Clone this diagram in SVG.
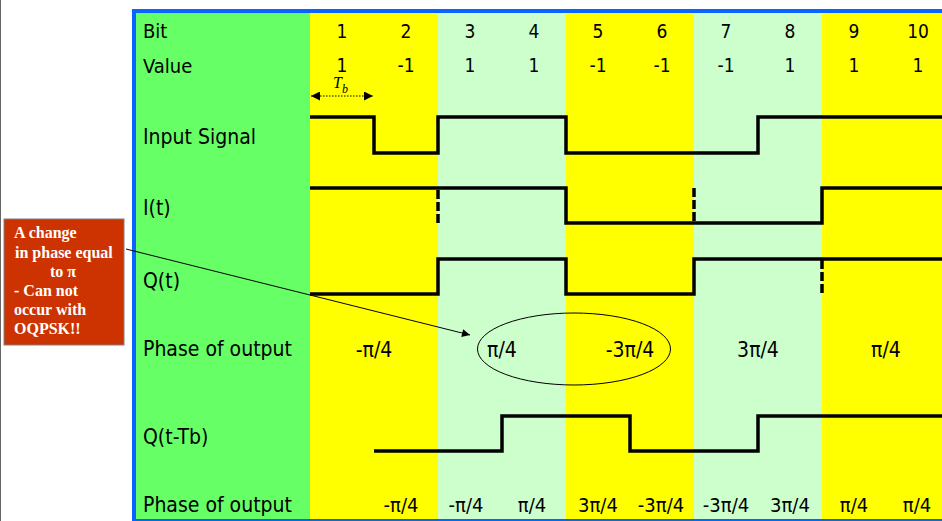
<svg xmlns="http://www.w3.org/2000/svg" width="942" height="521" viewBox="0 0 942 521">
<style>
.lbl{font-family:"DejaVu Sans Condensed","DejaVu Sans",sans-serif;font-stretch:condensed;font-size:21px;fill:#000}
.hdr{font-size:20px}
.num{font-family:"DejaVu Sans Condensed","DejaVu Sans",sans-serif;font-stretch:condensed;font-size:19px;fill:#000;text-anchor:middle}
.ph{font-family:"DejaVu Sans Condensed","DejaVu Sans",sans-serif;font-stretch:condensed;font-size:21px;fill:#000;text-anchor:middle}
.ph2{font-family:"DejaVu Sans Condensed","DejaVu Sans",sans-serif;font-stretch:condensed;font-size:20px;fill:#000;text-anchor:middle}
.wave{fill:none;stroke:#000;stroke-width:3.5;stroke-linejoin:miter}
.dash{fill:none;stroke:#000;stroke-width:3.5;stroke-dasharray:9 3}
.call{font-family:"Liberation Serif","Times New Roman",serif;font-weight:bold;font-size:16px;fill:#fff}
</style>
<defs>
<marker id="ah" viewBox="0 0 10 10" refX="10" refY="5" markerWidth="10" markerHeight="8" markerUnits="userSpaceOnUse" orient="auto">
<path d="M0,0 L10,5 L0,10 z" fill="#000"/>
</marker>
<marker id="tb" viewBox="0 0 10 10" refX="10" refY="5" markerWidth="9" markerHeight="9" markerUnits="userSpaceOnUse" orient="auto-start-reverse">
<path d="M0,0 L10,5 L0,10 z" fill="#000"/>
</marker>
</defs>
<rect width="942" height="521" fill="#fff"/>
<line x1="0.5" y1="0" x2="0.5" y2="521" stroke="#666" stroke-width="1"/>
<g id="background">
<rect x="136" y="13" width="174" height="508" fill="#66FF66"/>
<rect x="310" y="13" width="128" height="508" fill="#FFFF00"/>
<rect x="438" y="13" width="128" height="508" fill="#CCFFCC"/>
<rect x="566" y="13" width="128" height="508" fill="#FFFF00"/>
<rect x="694" y="13" width="128" height="508" fill="#CCFFCC"/>
<rect x="822" y="13" width="130" height="508" fill="#FFFF00"/>
<rect x="134" y="11" width="830" height="510" fill="none" stroke="#0A64FF" stroke-width="4"/>
</g>
<g id="row-labels">
<text class="lbl hdr" x="143" y="38">Bit</text>
<text class="lbl hdr" x="143" y="72.5">Value</text>
<text class="lbl" x="143" y="144">Input Signal</text>
<text class="lbl" x="143" y="215">I(t)</text>
<text class="lbl" x="143" y="288">Q(t)</text>
<text class="lbl" x="143" y="356">Phase of output</text>
<text class="lbl" x="143" y="444">Q(t-Tb)</text>
<text class="lbl" x="143" y="512">Phase of output</text>
</g>
<g id="bits">
<text class="num" x="342" y="37.5">1</text>
<text class="num" x="406" y="37.5">2</text>
<text class="num" x="470" y="37.5">3</text>
<text class="num" x="534" y="37.5">4</text>
<text class="num" x="598" y="37.5">5</text>
<text class="num" x="662" y="37.5">6</text>
<text class="num" x="726" y="37.5">7</text>
<text class="num" x="790" y="37.5">8</text>
<text class="num" x="854" y="37.5">9</text>
<text class="num" x="918" y="37.5">10</text>
</g>
<g id="values">
<text class="num" x="342" y="72">1</text>
<text class="num" x="406" y="72">-1</text>
<text class="num" x="470" y="72">1</text>
<text class="num" x="534" y="72">1</text>
<text class="num" x="598" y="72">-1</text>
<text class="num" x="662" y="72">-1</text>
<text class="num" x="726" y="72">-1</text>
<text class="num" x="790" y="72">1</text>
<text class="num" x="854" y="72">1</text>
<text class="num" x="918" y="72">1</text>
</g>
<g id="tb-marker">
<text x="333" y="88" font-family="Liberation Serif, serif" font-style="italic" font-size="16">T</text>
<text x="342" y="93" font-family="Liberation Serif, serif" font-style="italic" font-size="12">b</text>
<line x1="311" y1="96" x2="373" y2="96" stroke="#000" stroke-width="1.2" stroke-dasharray="1.5 1.5" marker-start="url(#tb)" marker-end="url(#tb)"/>
</g>
<g id="input-signal">
<path class="wave" d="M310,117 H374 V153 H438 V117 H566 V153 H758 V117 H942"/>
</g>
<g id="i-t">
<path class="wave" d="M310,188 H566 V223 H822 V188 H942"/>
<line class="dash" x1="438" y1="190" x2="438" y2="223"/>
<line class="dash" x1="694" y1="188" x2="694" y2="221"/>
</g>
<g id="q-t">
<path class="wave" d="M310,294 H438 V259 H566 V294 H694 V259 H942"/>
<line class="dash" x1="822" y1="260" x2="822" y2="294"/>
</g>
<g id="phase-output">
<text class="ph" x="374" y="357">-π/4</text>
<text class="ph" x="502" y="357">π/4</text>
<text class="ph" x="630" y="357">-3π/4</text>
<text class="ph" x="758" y="357">3π/4</text>
<text class="ph" x="886" y="357">π/4</text>
</g>
<g id="ellipse">
<ellipse cx="574" cy="349" rx="96.5" ry="36" fill="none" stroke="#000" stroke-width="1"/>
</g>
<g id="q-t-tb">
<path class="wave" d="M374,451 H502 V416 H630 V451 H758 V416 H942"/>
</g>
<g id="phase-output-2">
<text class="ph2" x="401" y="511.5">-π/4</text>
<text class="ph2" x="466" y="511.5">-π/4</text>
<text class="ph2" x="532" y="511.5">π/4</text>
<text class="ph2" x="598" y="511.5">3π/4</text>
<text class="ph2" x="661" y="511.5">-3π/4</text>
<text class="ph2" x="726" y="511.5">-3π/4</text>
<text class="ph2" x="790" y="511.5">3π/4</text>
<text class="ph2" x="854" y="511.5">π/4</text>
<text class="ph2" x="917" y="511.5">π/4</text>
</g>
<g id="callout">
<rect x="4" y="219" width="120" height="126" fill="#CC3300" stroke="#808080" stroke-width="1"/>
<text class="call" x="14" y="238">A change</text>
<text class="call" x="15" y="257.5">in phase equal</text>
<text class="call" x="50" y="276.5">to π</text>
<text class="call" x="14" y="296">- Can not</text>
<text class="call" x="14" y="315">occur with</text>
<text class="call" x="14" y="334">OQPSK!!</text>
</g>
<g id="connectors">
<line x1="126" y1="249" x2="470" y2="335" stroke="#000" stroke-width="1" marker-end="url(#ah)"/>
</g>
</svg>
